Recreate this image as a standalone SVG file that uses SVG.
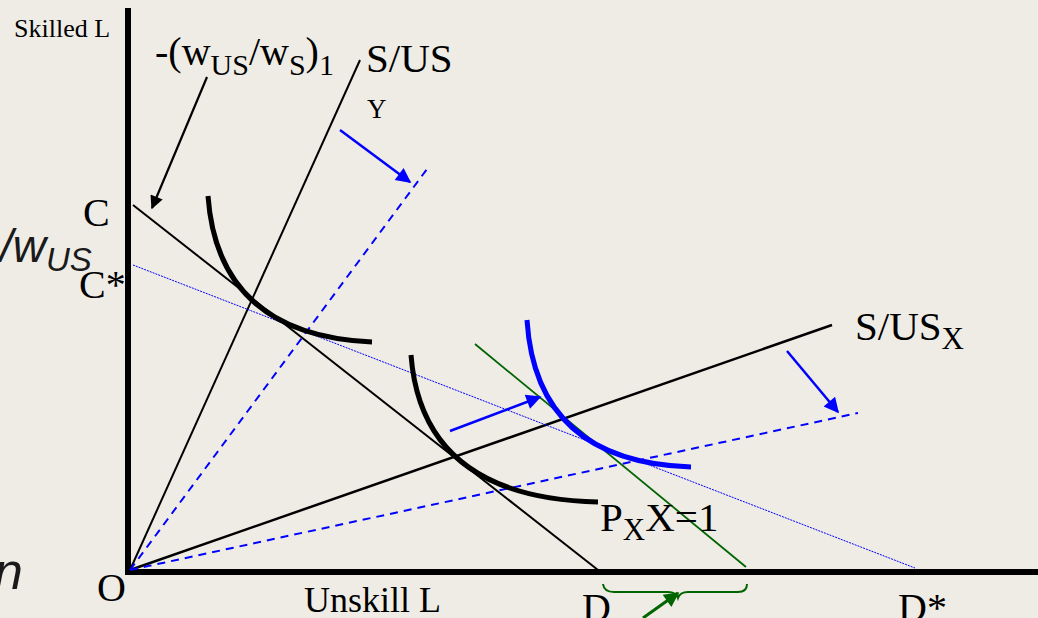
<svg xmlns="http://www.w3.org/2000/svg" width="1038" height="618" viewBox="0 0 1038 618">
<defs>
<style>
.t{font-family:"Liberation Serif","Times New Roman",serif;fill:#000}
.s{font-family:"Liberation Sans",Arial,sans-serif;font-style:italic;fill:#1a1a1a}
.k{stroke:#000;fill:none}
.b{stroke:#0000ff;fill:none}
.g{stroke:#006400;fill:none}
</style>
<marker id="ab" viewBox="0 0 10 10" refX="9" refY="5" markerWidth="7" markerHeight="6" orient="auto" markerUnits="strokeWidth"><path d="M0,0 L10,5 L0,10 z" fill="#0000ff"/></marker>
<marker id="ak" viewBox="0 0 10 10" refX="9" refY="5" markerWidth="7" markerHeight="6" orient="auto" markerUnits="strokeWidth"><path d="M0,0 L10,5 L0,10 z" fill="#000"/></marker>
<marker id="ag" viewBox="0 0 10 10" refX="9" refY="5" markerWidth="5.5" markerHeight="5" orient="auto" markerUnits="strokeWidth"><path d="M0,0 L10,5 L0,10 z" fill="#006400"/></marker>
</defs>
<rect width="1038" height="618" fill="#EFECE5"/>
<g id="bgtext">
<text class="s" x="0" y="262" font-size="46">/w<tspan font-size="33" dy="9">US</tspan></text>
<text class="s" x="-6" y="589" font-size="52">n</text>
</g>
<g id="axes">
<line class="k" x1="128" y1="8" x2="128" y2="575" stroke-width="6"/>
<line class="k" x1="125" y1="572" x2="1038" y2="572" stroke-width="6"/>
</g>
<g id="connectors">
<line class="k" x1="130" y1="570" x2="360" y2="60" stroke-width="2"/>
<line class="k" x1="130" y1="570" x2="832" y2="325" stroke-width="2.5"/>
<line class="b" x1="130" y1="570" x2="430" y2="165" stroke-width="2" stroke-dasharray="8,6"/>
<line class="b" x1="130" y1="570" x2="858" y2="413" stroke-width="2" stroke-dasharray="8,6"/>
<line class="k" x1="133" y1="205" x2="598" y2="570" stroke-width="2"/>
<line class="b" x1="133" y1="265" x2="915" y2="568" stroke-width="1" stroke-dasharray="2,1"/>
<line class="g" x1="475" y1="344" x2="746" y2="567" stroke-width="1.8"/>
<path class="k" d="M208,196 Q218,335 372,342" stroke-width="5"/>
<path class="k" d="M411,355 Q422,498 598,502" stroke-width="5"/>
<path class="b" d="M527,320 Q536,462 691,467" stroke-width="5"/>
<line class="b" x1="450" y1="431" x2="540" y2="397" stroke-width="2.5" marker-end="url(#ab)"/>
<line class="b" x1="340" y1="130" x2="410" y2="182" stroke-width="2.5" marker-end="url(#ab)"/>
<line class="b" x1="787" y1="351" x2="838" y2="412" stroke-width="2.5" marker-end="url(#ab)"/>
<line class="k" x1="207" y1="77" x2="152" y2="208" stroke-width="2.2" marker-end="url(#ak)"/>
<path class="g" d="M603,584 Q604,592 614,592 L668,592 Q676,592 678,598 Q680,592 688,592 L738,592 Q747,592 747,584" stroke-width="2"/>
<line class="g" x1="643" y1="618" x2="678" y2="593" stroke-width="3" marker-end="url(#ag)"/>
</g>
<g id="labels">
<text class="t" x="14" y="37" font-size="26">Skilled L</text>
<text class="t" x="155" y="65" font-size="40">-(w<tspan font-size="30" dy="10">US</tspan><tspan font-size="40" dy="-10">/w</tspan><tspan font-size="30" dy="10">S</tspan><tspan font-size="40" dy="-10">)</tspan><tspan font-size="30" dy="10">1</tspan></text>
<text class="t" x="366" y="72" font-size="41">S/US</text>
<text class="t" x="367" y="118" font-size="27">Y</text>
<text class="t" x="83" y="226" font-size="40">C</text>
<text class="t" x="79" y="298" font-size="40">C*</text>
<text class="t" x="97" y="601" font-size="40">O</text>
<text class="t" x="304" y="612" font-size="36">Unskill L</text>
<text class="t" x="582" y="621" font-size="40">D</text>
<text class="t" x="898" y="621" font-size="40">D*</text>
<text class="t" x="855" y="340" font-size="41">S/US<tspan font-size="31" dy="9">X</tspan></text>
<text class="t" x="600" y="531" font-size="41">P<tspan font-size="31" dy="9">X</tspan><tspan font-size="41" dy="-9">X=1</tspan></text>
</g>
</svg>
